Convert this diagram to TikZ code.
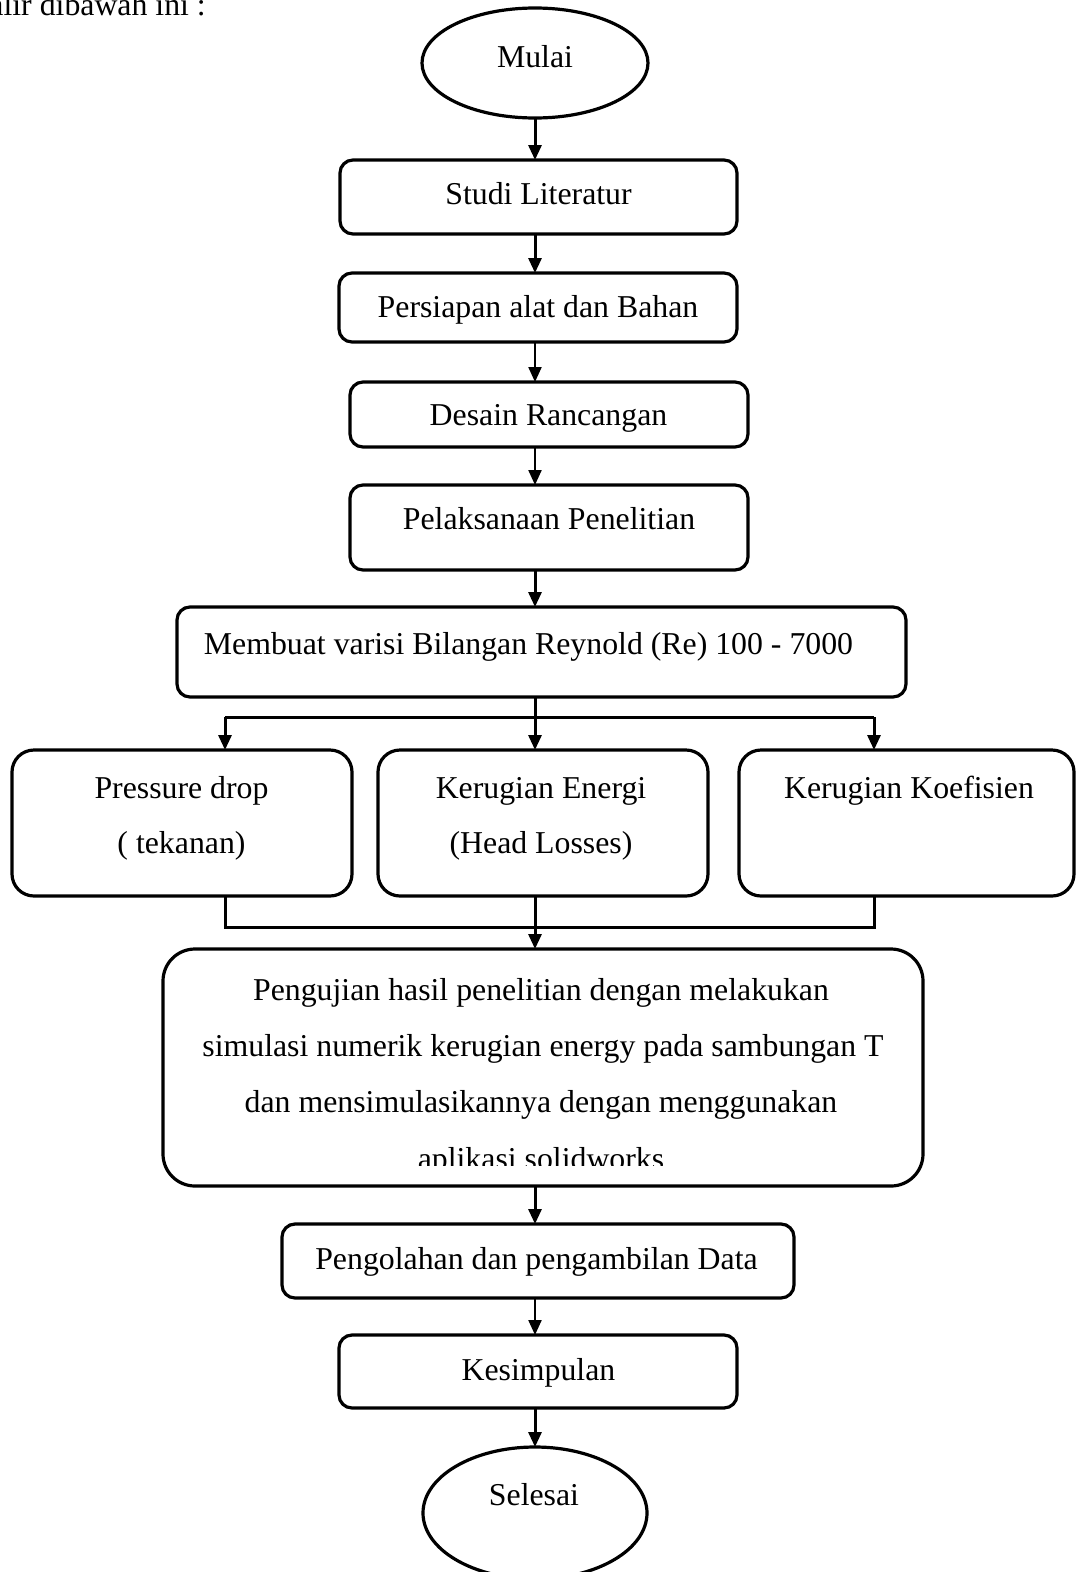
\documentclass[tikz,border=0pt]{standalone}
\usepackage{fontspec}
\setmainfont{Liberation Serif}
\usetikzlibrary{arrows.meta,shapes.geometric}
\begin{document}
\begin{tikzpicture}[x=1pt,y=-1pt,
  box/.style={draw,line width=3.2pt,rounded corners=#1,inner sep=0pt,outer sep=0pt},
  box/.default=13pt,
  oval/.style={draw,ellipse,line width=3.2pt,inner sep=0pt,outer sep=0pt},
  txt/.style={anchor=base,inner sep=0pt,font=\fontsize{31.8}{38}\selectfont},
  arr/.style={-{Triangle[width=13pt,length=15pt]},line width=3pt},
  arrthin/.style={-{Triangle[width=13pt,length=15pt]},line width=2.2pt},
  link/.style={line width=3pt}
]
\useasboundingbox (0,0) rectangle (1076,1572);
\fill[white] (0,0) rectangle (1076,1572);

\node[txt,anchor=base east] (intro) at (206,15) {alir dibawah ini :};

\coordinate (col) at (535,0);

% shapes
\node[oval,minimum width=226pt,minimum height=110pt] (mulai) at (535,63) {};
\node[box,minimum width=397pt,minimum height=74pt] (studi) at (538.5,197) {};
\node[box,minimum width=398pt,minimum height=69pt] (persiapan) at (538,307.5) {};
\node[box,minimum width=398pt,minimum height=65pt] (desain) at (549,414.5) {};
\node[box,minimum width=398pt,minimum height=85pt] (pelaksanaan) at (549,527.5) {};
\node[box,minimum width=729pt,minimum height=90pt] (membuat) at (541.5,652) {};
\node[box=22pt,minimum width=340pt,minimum height=146pt] (pd) at (182,823) {};
\node[box=22pt,minimum width=330pt,minimum height=146pt] (ke) at (543,823) {};
\node[box=22pt,minimum width=335pt,minimum height=146pt] (kk) at (906.5,823) {};
\node[box=32pt,minimum width=760pt,minimum height=237pt] (uji) at (543,1067.5) {};
\node[box,minimum width=512pt,minimum height=74pt] (olah) at (538,1261) {};
\node[box,minimum width=398pt,minimum height=73pt] (simpul) at (538,1371.5) {};
\node[oval,minimum width=224pt,minimum height=132pt] (selesai) at (535,1513) {};

% texts
\node[txt] (tmulai) at (535,67) {Mulai};
\node[txt] (tstudi) at (538.5,204) {Studi Literatur};
\node[txt] (tpersiapan) at (538,317) {Persiapan alat dan Bahan};
\node[txt] (tdesain) at (548.5,425) {Desain Rancangan};
\node[txt] (tpelaksanaan) at (549,529) {Pelaksanaan Penelitian};
\node[txt] (tmembuat) at (528.5,654) {Membuat varisi Bilangan Reynold (Re) 100 - 7000};
\node[txt] (tpd1) at (181.5,798) {Pressure drop};
\node[txt] (tpd2) at (181.5,853) {( tekanan)};
\node[txt] (tke1) at (541,798) {Kerugian Energi};
\node[txt] (tke2) at (541,853) {(Head Losses)};
\node[txt] (tkk) at (909,798) {Kerugian Koefisien};
\node[txt] (tu1) at (541,1000) {Pengujian hasil penelitian dengan melakukan};
\node[txt] (tu2) at (543,1056) {simulasi numerik kerugian energy pada sambungan T};
\node[txt] (tu3) at (541,1112) {dan mensimulasikannya dengan menggunakan};
\begin{scope}
\clip (163,1120) rectangle (923,1165);
\node[txt] (tu4) at (541,1169) {aplikasi solidworks};
\end{scope}
\node[txt] (tolah) at (536.5,1269) {Pengolahan dan pengambilan Data};
\node[txt] (tsimpul) at (538.5,1380) {Kesimpulan};
\node[txt] (tselesai) at (534,1505) {Selesai};

% connectors
\draw[arr] (mulai.south) -- (col |- studi.north);
\draw[arr] (col |- studi.south) -- (col |- persiapan.north);
\draw[arrthin] (col |- persiapan.south) -- (col |- desain.north);
\draw[arrthin] (col |- desain.south) -- (col |- pelaksanaan.north);
\draw[arr] (col |- pelaksanaan.south) -- (col |- membuat.north);

\coordinate (split) at (535,717);
\coordinate (bl) at (225,717);
\coordinate (br) at (874,717);
\draw[link] (col |- membuat.south) -- (split);
\draw[link] (bl) -- (br);
\draw[arr] (bl) -- (bl |- pd.north);
\draw[arr] (split) -- (split |- ke.north);
\draw[arr] (br) -- (br |- kk.north);

\coordinate (ml) at (225,927);
\coordinate (mr) at (874,927);
\coordinate (merge) at (535,927);
\draw[link] (ml |- pd.south) -- (ml) -- (mr) -- (mr |- kk.south);
\draw[link] (col |- ke.south) -- (merge);
\draw[arr] (merge) -- (col |- uji.north);

\draw[arr] (col |- uji.south) -- (col |- olah.north);
\draw[arrthin] (col |- olah.south) -- (col |- simpul.north);
\draw[arr] (col |- simpul.south) -- (selesai.north);
\end{tikzpicture}
\end{document}
